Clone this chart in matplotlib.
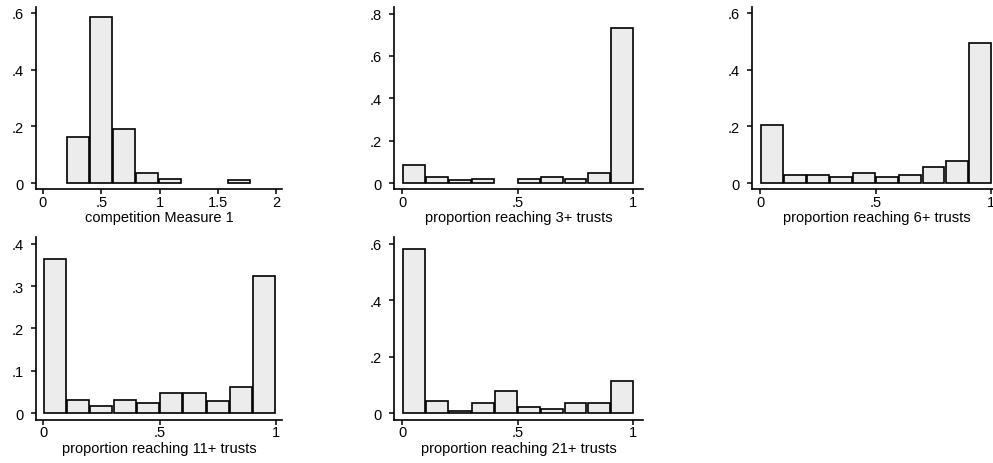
import matplotlib
matplotlib.use('Agg')
import matplotlib.pyplot as plt
import numpy as np

# bin edges
comp_edges = [0.205, 0.402, 0.599, 0.796, 0.993, 1.190, 1.387, 1.584, 1.781]
prop_edges = [0.0, 0.1, 0.2, 0.3, 0.4, 0.5, 0.6, 0.7, 0.8, 0.9, 1.0]

# bar heights (fraction of observations)
comp_measure1 = [0.162, 0.585, 0.189, 0.035, 0.014, 0.0, 0.0, 0.009]
reach_3 = [0.085, 0.028, 0.013, 0.019, 0.0, 0.019, 0.028, 0.019, 0.047, 0.734]
reach_6 = [0.205, 0.028, 0.028, 0.021, 0.035, 0.021, 0.028, 0.055, 0.078, 0.494]
reach_11 = [0.364, 0.032, 0.017, 0.032, 0.024, 0.047, 0.047, 0.028, 0.061, 0.324]
reach_21 = [0.581, 0.041, 0.007, 0.035, 0.078, 0.021, 0.014, 0.035, 0.035, 0.113]

titles = ['competition Measure 1', 'proportion reaching 3+ trusts',
          'proportion reaching 6+ trusts', 'proportion reaching 11+ trusts',
          'proportion reaching 21+ trusts']

comp_xticks = [0, 0.5, 1, 1.5, 2]
comp_xlabels = ['0', '.5', '1', '1.5', '2']
prop_xticks = [0, 0.5, 1]
prop_xlabels = ['0', '.5', '1']

yt_6 = [0, 0.2, 0.4, 0.6]
yl_6 = ['0', '.2', '.4', '.6']
yt_8 = [0, 0.2, 0.4, 0.6, 0.8]
yl_8 = ['0', '.2', '.4', '.6', '.8']
yt_4 = [0, 0.1, 0.2, 0.3, 0.4]
yl_4 = ['0', '.1', '.2', '.3', '.4']

W, H = 993, 464
FILL = '#ececec'
BAR_FRAC = 0.95  # small white gap between neighbouring bars


def add_panel(fig, box, xlim, ylim):
    # box in pixels: left, top, right, bottom
    l, t, r, b = box
    ax = fig.add_axes([l / W, 1 - b / H, (r - l) / W, (b - t) / H])
    ax.set_xlim(*xlim)
    ax.set_ylim(*ylim)
    for s in ['top', 'right']:
        ax.spines[s].set_visible(False)
    for s in ['left', 'bottom']:
        ax.spines[s].set_linewidth(1.2)
    ax.tick_params(axis='both', direction='out', length=3.6, width=1.1,
                   labelsize=10.5, colors='black')
    ax.tick_params(axis='y', pad=5)
    ax.tick_params(axis='x', pad=0.5)
    return ax


def draw_hist(ax, edges, heights, xticks, xlabels, yticks, ylabels, title):
    edges = np.array(edges)
    heights = np.array(heights)
    keep = heights > 0
    widths = np.diff(edges)
    centers = edges[:-1] + widths / 2
    ax.bar(centers[keep], heights[keep], width=widths[keep] * BAR_FRAC,
           align='center', color=FILL, edgecolor='black', linewidth=1.2)
    ax.set_xticks(xticks)
    ax.set_xticklabels(xlabels)
    ax.set_yticks(yticks)
    ax.set_yticklabels(ylabels)
    ax.set_xlabel(title, fontsize=10.5, labelpad=1)


def main():
    plt.rcParams['font.family'] = ['Liberation Sans', 'DejaVu Sans']
    fig = plt.figure(figsize=(W / 100, H / 100), dpi=100)

    ax1 = add_panel(fig, (36, 8, 282, 190), (-0.06, 2.05), (-0.021, 0.621))
    draw_hist(ax1, comp_edges, comp_measure1, comp_xticks, comp_xlabels,
              yt_6, yl_6, titles[0])

    ax2 = add_panel(fig, (394, 8, 643, 190), (-0.035, 1.042), (-0.028, 0.831))
    draw_hist(ax2, prop_edges, reach_3, prop_xticks, prop_xlabels,
              yt_8, yl_8, titles[1])

    # right panel runs past the figure edge, as in the original
    ax3 = add_panel(fig, (752, 8, 1001, 190), (-0.035, 1.042), (-0.021, 0.621))
    draw_hist(ax3, prop_edges, reach_6, prop_xticks, prop_xlabels,
              yt_6, yl_6, titles[2])

    ax4 = add_panel(fig, (36, 238, 282, 420.5), (-0.031, 1.026), (-0.015, 0.416))
    draw_hist(ax4, prop_edges, reach_11, prop_xticks, prop_xlabels,
              yt_4, yl_4, titles[3])

    ax5 = add_panel(fig, (394, 238, 643, 420.5), (-0.035, 1.042), (-0.023, 0.624))
    draw_hist(ax5, prop_edges, reach_21, prop_xticks, prop_xlabels,
              yt_6, yl_6, titles[4])

    fig.savefig('out.png', dpi=100, facecolor='white')


if __name__ == '__main__':
    main()
